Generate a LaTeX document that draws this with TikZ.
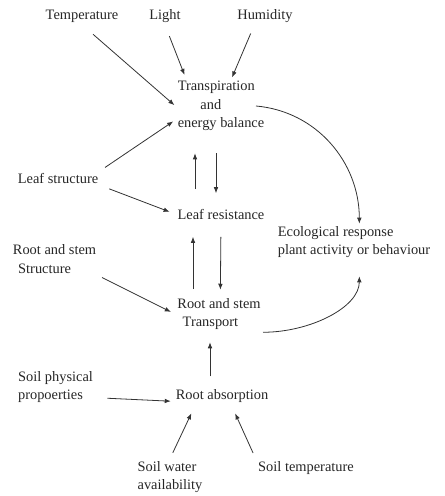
\documentclass[tikz,border=0pt]{standalone}
\usepackage{fontspec}
\setmainfont{Liberation Serif}
\usepackage{xcolor}
\usetikzlibrary{arrows.meta}

\begin{document}
\begin{tikzpicture}[x=0.75pt, y=-0.75pt, >={Latex[length=4.5pt,width=3.5pt]}, line width=0.6pt,
  every node/.style={font=\fontsize{10.8}{14}\selectfont, text=black!85, inner sep=1.5pt},
  link/.style={->, draw=black!80}]
\useasboundingbox (0,0) rectangle (445,496);

\node (temp) at (82,16) {Temperature};
\node (light) at (165,16) {Light};
\node (humid) at (265,16) {Humidity};
\node[align=left] (trans) at (221,106) {Transpiration\\\hspace*{17pt}and\\energy balance};
\node (leafs) at (58,178) {Leaf structure};
\node (leafr) at (221,214) {Leaf resistance};
\node[align=left] (eco) at (354,242) {Ecological response\\plant activity or behaviour};
\node[align=left] (rss) at (54.5,259) {Root and stem\\\hspace*{4pt}Structure};
\node[align=left] (rst) at (219,314) {Root and stem\\\hspace*{4pt}Transport};
\node[align=left] (soilp) at (55.5,387) {Soil physical\\propoerties};
\node (rabs) at (222,396) {Root absorption};
\node[align=left] (swat) at (170,477) {Soil water\\availability};
\node (stemp) at (306,468) {Soil temperature};

\draw[link, shorten <=11pt, shorten >=1pt] (temp.south) -- (trans.west);
\draw[link, shorten <=9pt, shorten >=3pt] (light.south) -- (trans.142);
\draw[link, shorten <=7pt, shorten >=1pt] ([xshift=-8pt]humid.south) -- (trans.69);
\draw[link, shorten <=4pt, shorten >=2pt] (leafs.north east) -- (trans.197);
\draw[link, shorten <=13pt, shorten >=15pt] ([xshift=-19.5pt]leafr.north) -- ([xshift=-19.5pt]trans.south);
\draw[link, shorten <=15pt, shorten >=10pt] ([xshift=-3.75pt]trans.south) -- ([xshift=-3.75pt]leafr.north);
\draw[link, shorten <=7pt, shorten >=4.5pt] (leafs.south east) -- (leafr.west);
\draw[link] ([xshift=-8pt]trans.east) to[out=-5, in=90] ([xshift=4pt]eco.north);
\draw[link, shorten <=5pt, shorten >=11.5pt] ([xshift=-19.5pt]rst.north) -- ([xshift=-21pt]leafr.south);
\draw[link, shorten <=11.5pt, shorten >=4.5pt] (leafr.south) -- ([xshift=1pt]rst.north);
\draw[link, shorten <=3pt, shorten >=3.5pt] (rss.south east) -- (rst.west);
\draw[link, shorten >=12pt] (rst.south east) to[out=0, in=-90] ([xshift=4pt]eco.south);
\draw[link, shorten <=8pt, shorten >=7.5pt] ([xshift=-9pt]rabs.north) -- ([xshift=-6.75pt]rst.south);
\draw[link, shorten <=9pt, shorten >=2pt] ([yshift=-8pt]soilp.east) -- ([yshift=-4pt]rabs.west);
\draw[link, shorten <=5pt, shorten >=7pt] (swat.north) -- ([xshift=-20pt]rabs.south);
\draw[link, shorten <=5pt, shorten >=7pt] (stemp.north west) -- ([xshift=7pt]rabs.south);
\end{tikzpicture}
\end{document}
